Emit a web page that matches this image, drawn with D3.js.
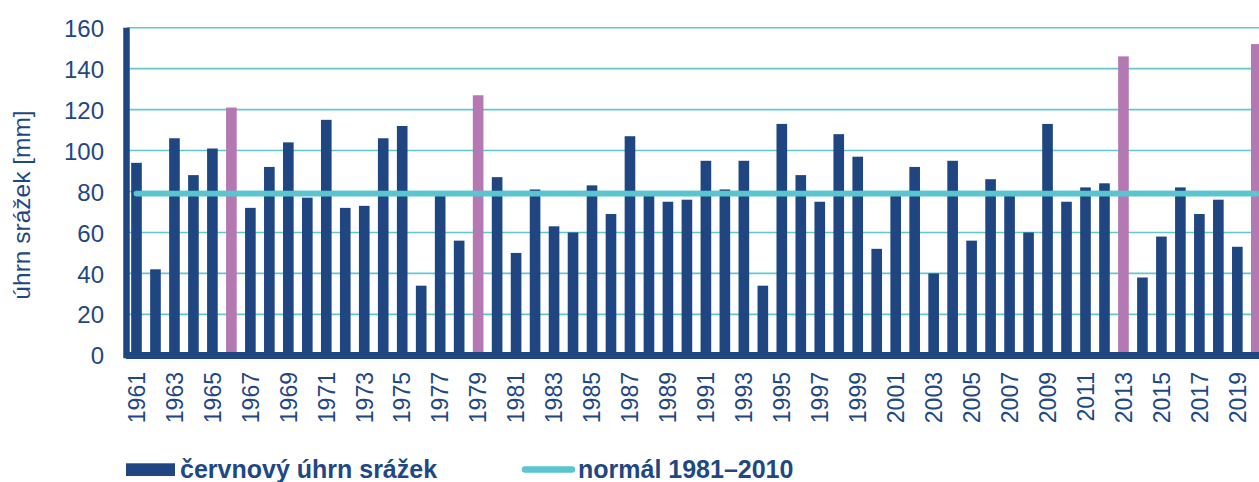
<!DOCTYPE html>
<html lang="cs">
<head>
<meta charset="utf-8">
<script src="https://cdn.jsdelivr.net/npm/d3@7"></script>
<style>
  html, body { margin: 0; padding: 0; background: #fff; overflow: hidden; }
  svg { display: block; font-family: "Liberation Sans", Arial, sans-serif; }
</style>
</head>
<body>
<svg id="chart" width="1259" height="482"></svg>
<script>
// June precipitation totals (mm), 1961–2020
const years = d3.range(1961, 2021);
const precip = [
  94, 42, 106, 88, 101, 121, 72, 92, 104, 77,
  115, 72, 73, 106, 112, 34, 78, 56, 127, 87,
  50, 81, 63, 60, 83, 69, 107, 78, 75, 76,
  95, 81, 95, 34, 113, 88, 75, 108, 97, 52,
  78, 92, 40, 95, 56, 86, 78, 60, 113, 75,
  82, 84, 146, 38, 58, 82, 69, 76, 53, 152
];
// years with exceptionally wet June
const highlightYears = [1966, 1979, 2013, 2020];
// long-term normal 1981–2010 (mm)
const normal = 79;
const yTicks = [0, 20, 40, 60, 80, 100, 120, 140, 160];
const xTickYears = years.filter(y => (y - 1961) % 2 === 0);
const seriesLabel = "červnový úhrn srážek";
const normalLabel = "normál 1981–2010";
const yTitle = "úhrn srážek [mm]";

const navy = "#1f4681";
const purple = "#b479b2";
const cyan = "#5bc5cf";
const textColor = "#1f4883";

const data = years.map((y, i) => ({ year: y, value: precip[i] }));

const svg = d3.select("#chart");

const x = d3.scaleBand()
  .domain(years)
  .range([127, 1265.8])
  .paddingInner(0.44)
  .paddingOuter(0.22);

const y = d3.scaleLinear()
  .domain([0, 160])
  .range([355.3, 27.7]);

// horizontal gridlines
svg.append("g")
  .selectAll("line")
  .data(yTicks.filter(t => t > 0))
  .join("line")
  .attr("x1", 127)
  .attr("x2", 1259)
  .attr("y1", d => y(d))
  .attr("y2", d => y(d))
  .attr("stroke", "#63c7d2")
  .attr("stroke-width", 1.6);

// bars
svg.append("g")
  .selectAll("rect")
  .data(data)
  .join("rect")
  .attr("x", d => x(d.year))
  .attr("width", x.bandwidth())
  .attr("y", d => y(d.value))
  .attr("height", d => y(0) - y(d.value))
  .attr("fill", d => highlightYears.includes(d.year) ? purple : navy);

// normal line
const normalLine = d3.line()
  .x(d => x(d.year) + x.bandwidth() / 2)
  .y(() => y(normal));
svg.append("path")
  .datum(data)
  .attr("d", normalLine)
  .attr("fill", "none")
  .attr("stroke", cyan)
  .attr("stroke-width", 5.8)
  .attr("stroke-linecap", "round");

// axes lines
svg.append("line")
  .attr("x1", 126.5).attr("x2", 126.5)
  .attr("y1", y(160)).attr("y2", y(0) + 3)
  .attr("stroke", navy).attr("stroke-width", 6.5);
svg.append("line")
  .attr("x1", 126).attr("x2", 1259)
  .attr("y1", y(0) + 0.2).attr("y2", y(0) + 0.2)
  .attr("stroke", navy).attr("stroke-width", 7);

// y tick labels
const yAxis = d3.axisLeft(y).tickValues(yTicks).tickSize(0).tickPadding(0);
const gy = svg.append("g")
  .attr("transform", "translate(104,0)")
  .call(yAxis);
gy.select(".domain").remove();
gy.selectAll("text")
  .attr("fill", textColor)
  .attr("font-size", 24)
  .attr("font-family", "'Liberation Sans', Arial, sans-serif")
  .attr("dy", "0.36em");

// x tick labels (every other year, rotated)
const xAxis = d3.axisBottom(x).tickValues(xTickYears).tickSize(0).tickPadding(0);
const gx = svg.append("g")
  .attr("transform", "translate(0,372)")
  .call(xAxis);
gx.select(".domain").remove();
gx.selectAll("text")
  .attr("fill", textColor)
  .attr("font-size", 23)
  .attr("font-family", "'Liberation Sans', Arial, sans-serif")
  .attr("text-anchor", "end")
  .attr("transform", "rotate(-90)")
  .attr("x", 0)
  .attr("y", 0)
  .attr("dy", "0.36em");

// y axis title
svg.append("text")
  .attr("transform", "translate(21,205) rotate(-90)")
  .attr("text-anchor", "middle")
  .attr("dy", "0.36em")
  .attr("fill", textColor)
  .attr("font-size", 24.5)
  .text(yTitle);

// legend
const legend = svg.append("g");
legend.append("rect")
  .attr("x", 126).attr("y", 463.3)
  .attr("width", 49).attr("height", 12.7)
  .attr("fill", navy);
legend.append("text")
  .attr("x", 180).attr("y", 477.5)
  .attr("fill", textColor)
  .attr("font-size", 25)
  .attr("font-weight", "bold")
  .text(seriesLabel);
legend.append("line")
  .attr("x1", 525).attr("x2", 572)
  .attr("y1", 469.5).attr("y2", 469.5)
  .attr("stroke", cyan)
  .attr("stroke-width", 6.4)
  .attr("stroke-linecap", "round");
legend.append("text")
  .attr("x", 578).attr("y", 477.5)
  .attr("fill", textColor)
  .attr("font-size", 25)
  .attr("font-weight", "bold")
  .text(normalLabel);
</script>
</body>
</html>
